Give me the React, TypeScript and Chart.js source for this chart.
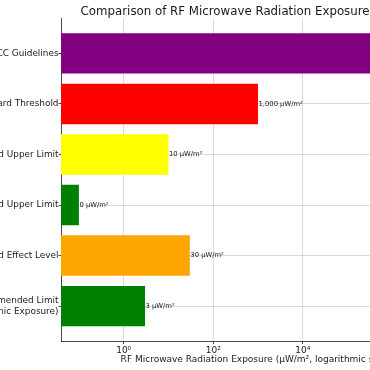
import React, { useEffect, useRef } from "react";
import { Chart, registerables } from "chart.js";

Chart.register(...registerables);

// ---- data ----
const categories: (string | string[])[] = [
  "FCC Guidelines",
  "Building Biology Hazard Threshold",
  "Slight Concern Suggested Upper Limit",
  "No Concern Suggested Upper Limit",
  "Lowest Observed Effect Level",
  ["BioInitiative Recommended Limit", "(Chronic Exposure)"],
];
const values: number[] = [10000000, 1000, 10, 0.1, 30, 3];
const barColors: string[] = ["#800080", "#ff0000", "#ffff00", "#008000", "#ffa500", "#008000"];
const xTickValues: number[] = [1, 100, 10000, 1000000];
const xTickLabels: string[] = ["10⁰", "10²", "10⁴", "10⁶"];
const unit = "μW/m²";
const titleText = "Comparison of RF Microwave Radiation Exposure Guidelines";
const xTitle = "RF Microwave Radiation Exposure (μW/m², logarithmic scale)";

// ---- layout ----
const H = 370;
const Y_W = 260;
const OFFSET = 199;
const CW = 664;
const FONT = "DejaVu Sans";
const TEXT = "#1a1a1a";
const GRID = "rgba(176,176,176,0.6)";
const TICK_SIZE = 9;
const YTICK_SIZE = 8.9;

const fmt = (v: number) => Math.round(v).toLocaleString("en-US") + " " + unit;

const overlayPlugin = {
  id: "overlay",
  afterDraw(chart: any) {
    const { ctx, chartArea } = chart;
    ctx.save();
    ctx.font = `11.8px "${FONT}"`;
    ctx.fillStyle = TEXT;
    ctx.textAlign = "center";
    ctx.textBaseline = "alphabetic";
    ctx.fillText(titleText, (chartArea.left + chartArea.right) / 2, 15);
    const meta = chart.getDatasetMeta(0);
    ctx.font = `6.8px "${FONT}"`;
    ctx.textAlign = "left";
    ctx.textBaseline = "middle";
    meta.data.forEach((bar: any, i: number) => {
      ctx.fillText(fmt(values[i]), bar.x + 0.5, bar.y);
    });
    ctx.restore();
  },
};

export default function App() {
  const ref = useRef<HTMLCanvasElement>(null);
  useEffect(() => {
    const chart = new Chart(ref.current as HTMLCanvasElement, {
      type: "bar",
      data: {
        datasets: [
          {
            data: values.map((v, i) => ({ x: v, y: i })),
            backgroundColor: barColors,
            borderWidth: 0,
            barPercentage: 0.8,
            categoryPercentage: 1,
          } as any,
        ],
      },
      options: {
        indexAxis: "y",
        animation: false,
        responsive: false,
        devicePixelRatio: 1,
        layout: { padding: { top: 18.5, right: 10, bottom: 0, left: 0 } },
        plugins: {
          legend: { display: false },
          title: { display: false },
          tooltip: { enabled: false },
        },
        scales: {
          x: {
            type: "logarithmic",
            position: "bottom",
            min: Math.pow(10, -1.4),
            max: Math.pow(10, 7.4),
            z: 1,
            afterBuildTicks: (s: any) => {
              s.ticks = xTickValues.map((v) => ({ value: v }));
            },
            afterFit: (s: any) => {
              s.height = 29;
            },
            ticks: {
              autoSkip: false,
              maxRotation: 0,
              padding: 1,
              color: TEXT,
              font: { family: FONT, size: TICK_SIZE },
              callback: (v: any) => {
                const i = xTickValues.indexOf(Number(v));
                return i >= 0 ? xTickLabels[i] : "";
              },
            },
            grid: { color: GRID, lineWidth: 0.8, tickColor: TEXT, tickLength: 3, drawTicks: true },
            border: { display: true, color: TEXT, width: 0.8 },
            title: {
              display: true,
              text: xTitle,
              color: TEXT,
              font: { family: FONT, size: TICK_SIZE },
              padding: { top: 0, bottom: 4.5 },
            },
          } as any,
          y: {
            type: "linear",
            reverse: true,
            offset: false,
            min: -0.69,
            max: 5.69,
            z: 1,
            afterBuildTicks: (s: any) => {
              s.ticks = categories.map((_, i) => ({ value: i }));
            },
            afterFit: (s: any) => {
              s.width = Y_W;
            },
            ticks: {
              autoSkip: false,
              padding: 0,
              color: TEXT,
              font: { family: FONT, size: YTICK_SIZE },
              callback: (v: any) => categories[Number(v)] ?? "",
            },
            grid: {
              offset: false,
              color: GRID,
              lineWidth: 0.8,
              tickColor: TEXT,
              tickLength: 2.5,
              drawTicks: true,
            },
            border: { display: true, color: TEXT, width: 0.8 },
          } as any,
        },
      },
      plugins: [overlayPlugin],
    });
    return () => chart.destroy();
  }, []);

  return (
    <div
      style={{
        position: "fixed",
        left: 0,
        top: 0,
        width: 370,
        height: 370,
        overflow: "hidden",
        background: "#fff",
      }}
    >
      <div style={{ position: "absolute", left: -OFFSET, top: 0, width: CW, height: H }}>
        <canvas ref={ref} width={CW} height={H} style={{ width: CW, height: H, display: "block" }} />
      </div>
    </div>
  );
}
